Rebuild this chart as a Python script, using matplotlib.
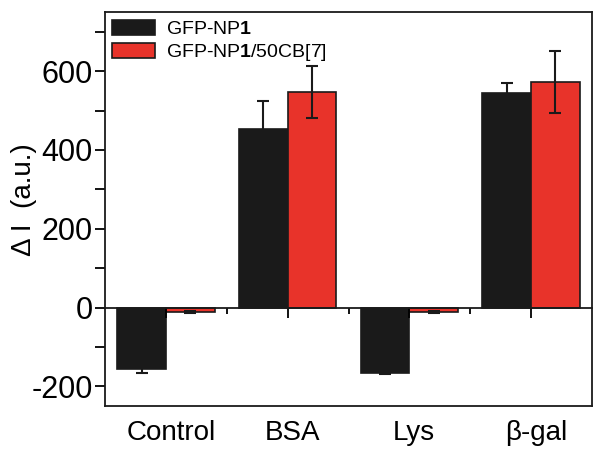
import matplotlib
matplotlib.use("Agg")
import matplotlib.pyplot as plt
from matplotlib.ticker import MultipleLocator, FixedLocator
import numpy as np

plt.rcParams['font.family'] = ['Liberation Sans', 'DejaVu Sans']
plt.rcParams['axes.unicode_minus'] = False
plt.rcParams['mathtext.fontset'] = 'custom'
plt.rcParams['mathtext.rm'] = 'Liberation Sans'
plt.rcParams['mathtext.bf'] = 'Liberation Sans:bold'

categories = ['Control', 'BSA', 'Lys', 'β-gal']
np1 = [-155, 453, -165, 544]
np1_err = [10, 71, 3, 26]
np1_cb = [-12, 547, -12, 572]
np1_cb_err = [3, 67, 3, 79]

black = '#1a1a1a'
red = '#e8332a'

fig = plt.figure(figsize=(6.04, 4.58), dpi=100)
ax = fig.add_axes([0.174, 0.1135, 0.806, 0.860])

x = np.arange(len(categories))
w = 0.4
err_kw = dict(ecolor=black, elinewidth=1.5, capsize=4, capthick=1.5)
ax.bar(x - w / 2, np1, w, yerr=np1_err, color=black, edgecolor=black,
       linewidth=1.2, error_kw=err_kw, label='GFP-NP$\\mathbf{1}$')
ax.bar(x + w / 2, np1_cb, w, yerr=np1_cb_err, color=red, edgecolor=black,
       linewidth=1.2, error_kw=err_kw, label='GFP-NP$\\mathbf{1}$/50CB[7]')

ax.set_xlim(-0.5, 3.5)
ax.set_ylim(-250, 750)

# x axis sits on the zero line, frame closed with a separate bottom line
ax.spines['bottom'].set_position(('data', 0))
for s in ax.spines.values():
    s.set_linewidth(1.3)
    s.set_color(black)
ax.plot([0, 1], [0, 0], transform=ax.transAxes, color=black, lw=1.3, clip_on=False)

ax.xaxis.set_major_locator(FixedLocator(x))
ax.xaxis.set_minor_locator(FixedLocator(x[:-1] + 0.5))
ax.tick_params(axis='x', which='major', direction='out', length=7, width=1.3,
               labelbottom=False)
ax.tick_params(axis='x', which='minor', direction='out', length=4, width=1.3)

ax.yaxis.set_major_locator(MultipleLocator(200))
ax.yaxis.set_minor_locator(MultipleLocator(100))
ax.tick_params(axis='y', which='both', direction='out', length=7, width=1.3,
               labelsize=22, pad=2)

for xi, name in zip(x, categories):
    ax.text(xi + 0.04, -0.035, name, transform=ax.get_xaxis_transform(),
            ha='center', va='top', fontsize=20)

fig.text(0.04, 0.565, 'Δ I  (a.u.)', rotation=90, ha='center', va='center',
         fontsize=20)

ax.legend(loc='upper left', bbox_to_anchor=(-0.01, 1.01), frameon=False,
          fontsize=14, handlelength=2.2, handleheight=0.8, handletextpad=0.6,
          labelspacing=0.2, borderaxespad=0.2)

fig.savefig('out.png', dpi=100)
